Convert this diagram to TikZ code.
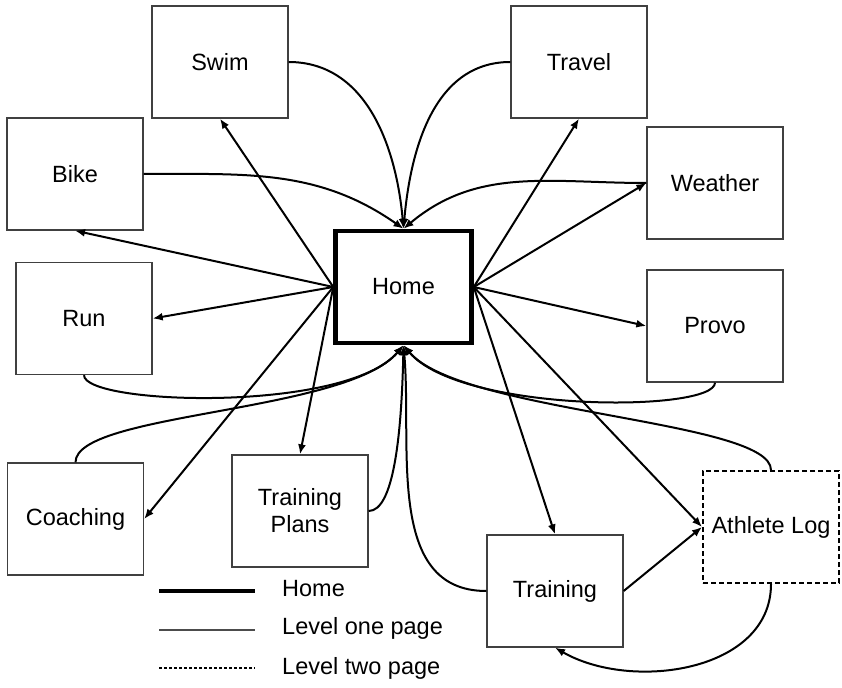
\documentclass[tikz,border=0pt]{standalone}
\usepackage{fontspec}
\setmainfont{Liberation Sans}
\usetikzlibrary{arrows.meta}

\begin{document}
\begin{tikzpicture}[x=1pt,y=-1pt,
		page/.style={draw=black!75,line width=1.3pt,minimum width=136pt,minimum height=112pt,inner sep=0pt,align=center},
		link/.style={line width=2pt,-{Latex[length=10pt,width=8pt]}},
		font=\fontsize{23.5}{27}\selectfont]
	\useasboundingbox (0,0) rectangle (842,687);
	\node[page,draw=black,line width=4.5pt] (home) at (403.5,287) {Home};
	\node[page] (swim) at (220,62) {Swim};
	\node[page] (travel) at (579,62) {Travel};
	\node[page] (bike) at (75,174) {Bike};
	\node[page] (weather) at (715,183) {Weather};
	\node[page] (run) at (84,318.5) {Run};
	\node[page] (provo) at (715,326) {Provo};
	\node[page] (coaching) at (75.5,519) {Coaching};
	\node[page] (plans) at (300,511) {Training\\Plans};
	\node[page] (training) at (555,591) {Training};
	\node[page,draw=black,line width=2pt,dash pattern=on 5pt off 3pt] (log) at (771,527) {Athlete Log};

	\draw[link] (home.west) -- (swim.south);
	\draw[link] (home.west) -- (bike.south);
	\draw[link] (home.west) -- (run.east);
	\draw[link] (home.west) -- (coaching.east);
	\draw[link] (home.west) -- (plans.north);
	\draw[link] (home.east) -- (travel.south);
	\draw[link] (home.east) -- (weather.west);
	\draw[link] (home.east) -- (provo.west);
	\draw[link] (home.east) -- (training.north);
	\draw[link] (home.east) -- (log.west);
	\draw[link] (training.east) -- (log.west);

	\draw[link] (swim.east) to[out=0,in=95] (home.north);
	\draw[link] (travel.west) to[out=180,in=85] (home.north);
	\draw[link] (bike.east) to[out=0,in=145] (home.north);
	\draw[link] (weather.west) to[out=180,in=40] (home.north);

	\draw[link] (run.south) .. controls +(0,30) and +(-57,68) .. (home.south);
	\draw[link] (coaching.north) .. controls +(0,-50) and +(-57,68) .. (home.south);
	\draw[link] (plans.east) .. controls +(25,0) and +(-2,90) .. (home.south);
	\draw[link] (training.west) to[out=180,in=-85] (home.south);
	\draw[link] (provo.south) .. controls +(0,30) and +(57,68) .. (home.south);
	\draw[link] (log.north) .. controls +(0,-50) and +(57,68) .. (home.south);
	\draw[link] (log.south) to[out=-90,in=-30] (training.south);

	\draw[line width=4pt] (159,591) -- (255,591);
	\draw[line width=1.2pt,black!70] (159,630) -- (255,630);
	\draw[line width=1.5pt,dash pattern=on 3pt off 2pt] (159,668) -- (255,668);
	\node[anchor=west,inner sep=0pt] (keyhome) at (282,589) {Home};
	\node[anchor=west,inner sep=0pt] (keyone) at (282,628) {Level one page};
	\node[anchor=west,inner sep=0pt] (keytwo) at (282,668) {Level two page};
\end{tikzpicture}
\end{document}
